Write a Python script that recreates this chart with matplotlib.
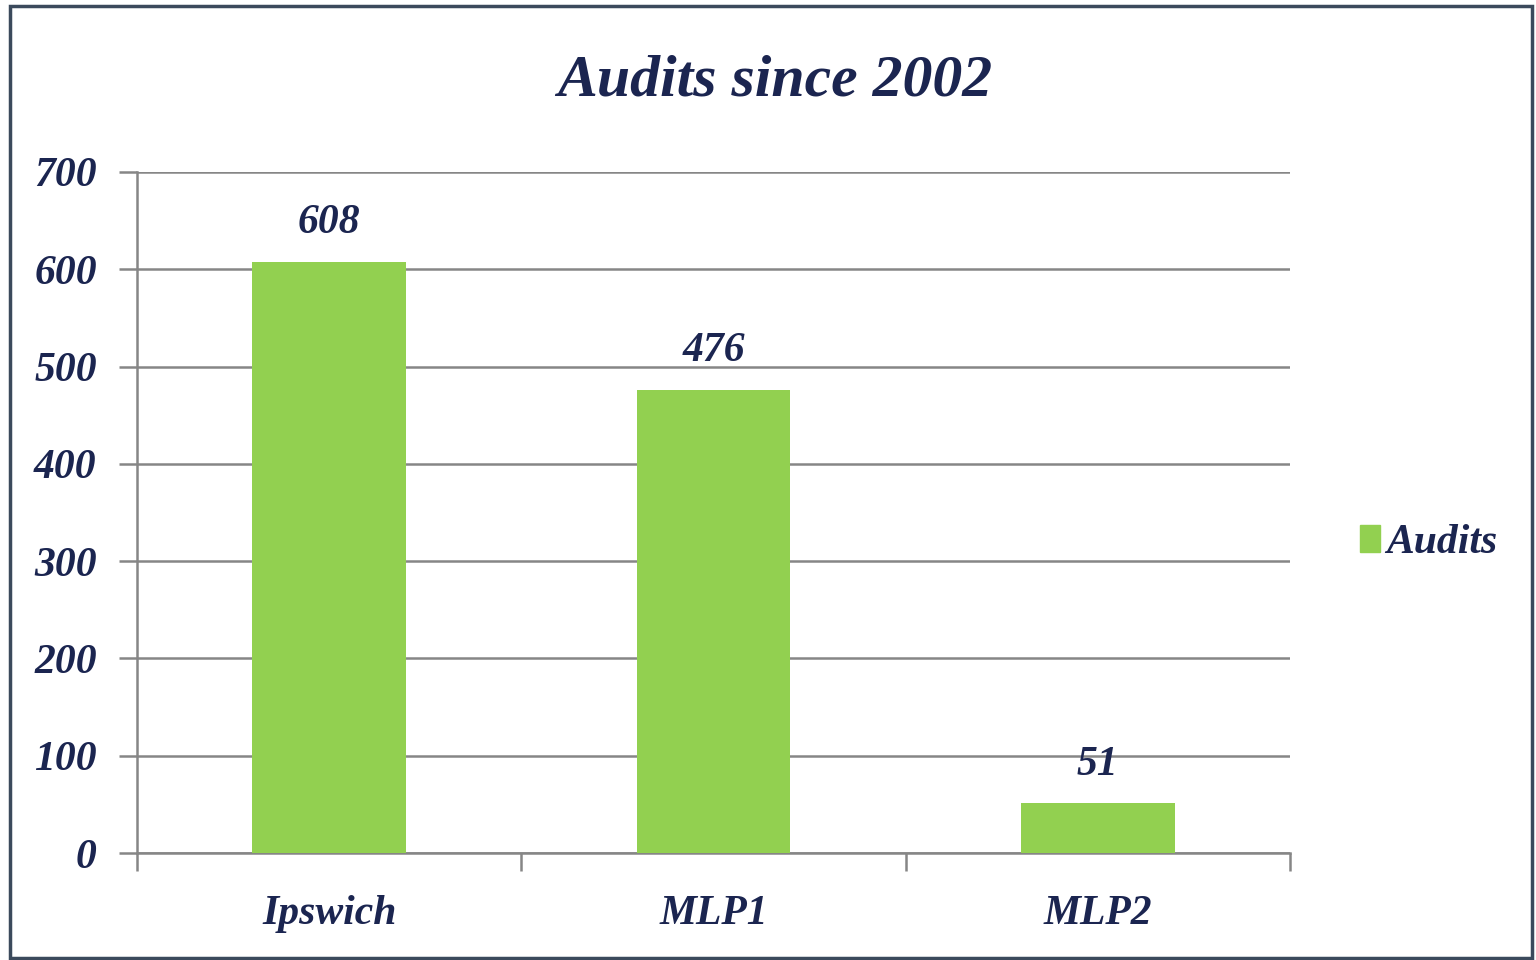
import matplotlib
matplotlib.use("Agg")
import matplotlib.pyplot as plt
import matplotlib.patches as mpatches

categories = ["Ipswich", "MLP1", "MLP2"]
audits = [608, 476, 51]
y_ticks = [0, 100, 200, 300, 400, 500, 600, 700]

GREEN = "#92D050"
NAVY = "#1B2550"
GRID = "#868686"
FS = 30

plt.rcParams["font.family"] = ["Liberation Serif", "DejaVu Serif"]

fig = plt.figure(figsize=(15.36, 9.6), dpi=100)
fig.patch.set_facecolor("white")
ax = fig.add_axes([137 / 1536, 1 - 853 / 960, (1290 - 137) / 1536, (853 - 172) / 960])

x = list(range(len(categories)))
bars = ax.bar(x, audits, width=0.4, color=GREEN, zorder=3, label="Audits")

ax.set_xlim(-0.5, len(categories) - 0.5)
ax.set_ylim(0, 700)
ax.set_yticks(y_ticks)
ax.set_yticklabels([str(t) for t in y_ticks], fontsize=FS, fontweight="bold",
                   fontstyle="italic", color=NAVY)
ax.yaxis.grid(True, color=GRID, linewidth=1.8, zorder=0)
ax.tick_params(axis="y", length=13, width=1.8, color=GRID, pad=16)

# category labels centered, ticks at the boundaries
ax.set_xticks([i - 0.5 for i in range(len(categories) + 1)])
ax.set_xticklabels([])
ax.set_xticks(x, minor=True)
ax.set_xticklabels(categories, minor=True, fontsize=FS, fontweight="bold",
                   fontstyle="italic", color=NAVY)
ax.tick_params(axis="x", which="major", length=13, width=1.8, color=GRID)
ax.tick_params(axis="x", which="minor", length=0, pad=30)

for s in ["top", "right"]:
    ax.spines[s].set_visible(False)
for s in ["left", "bottom"]:
    ax.spines[s].set_color(GRID)
    ax.spines[s].set_linewidth(1.8)

for b, v in zip(bars, audits):
    ax.annotate(str(v), (b.get_x() + b.get_width() / 2, v), textcoords="offset points",
                xytext=(0, 14), ha="center", va="bottom", fontsize=FS,
                fontweight="bold", fontstyle="italic", color=NAVY)

fig.text(775 / 1536, 1 - 82 / 960, "Audits since 2002", ha="center", va="center",
         fontsize=43, fontweight="bold", fontstyle="italic", color=NAVY)

leg = ax.legend(handles=[mpatches.Patch(color=GREEN, label="Audits")],
                loc="center left", bbox_to_anchor=(1322 / 1536, 1 - 543 / 960),
                bbox_transform=fig.transFigure, frameon=False,
                prop={"size": FS, "weight": "bold", "style": "italic"},
                handlelength=0.5, handleheight=0.6, handletextpad=0.15)
for t in leg.get_texts():
    t.set_color(NAVY)

# outer frame
fig.add_artist(mpatches.Rectangle((10 / 1536, 2 / 960), 1 - 14 / 1536, 1 - 8 / 960,
                                  transform=fig.transFigure, fill=False,
                                  edgecolor="#3B4A5C", linewidth=2.5))

fig.savefig("out.png", dpi=100)
